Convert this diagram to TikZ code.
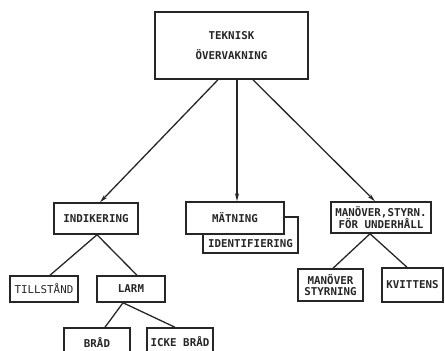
\documentclass[tikz,border=0pt]{standalone}
\usepackage{fontspec}
\setmonofont{DejaVu Sans Mono}
\usetikzlibrary{arrows.meta}
\definecolor{ink}{HTML}{262626}
\begin{document}
\begin{tikzpicture}[x=1pt,y=-1pt,
  box/.style={draw=ink, line width=1.5pt, fill=white, inner sep=0pt,
    align=center, font=\ttfamily\bfseries\fontsize{10.8}{11}\selectfont, text=ink},
  link/.style={draw=ink, line width=1.3pt},
  arrowlink/.style={link, -{Stealth[length=8pt,width=4pt]}}]
\useasboundingbox (0,0) rectangle (445,351);
\begin{scope}
\clip (0,0) rectangle (445,351);
% top level
\node[box, minimum width=153pt, minimum height=67pt] (top) at (231.5,45.5)
  {TEKNISK\\[9pt]ÖVERVAKNING};
% second level
\node[box, minimum width=84pt, minimum height=31pt] (ind) at (96,218.5) {INDIKERING};
\node[box, minimum width=95pt, text height=30pt, text depth=6pt] (ident) at (250.5,235) {IDENTIFIERING};
\node[box, minimum width=98pt, minimum height=32pt] (mat) at (235,218) {MÄTNING};
\node[box, minimum width=100pt, minimum height=31pt] (man) at (381,217.5) {MANÖVER,STYRN.\\FÖR UNDERHÅLL};
% third level
\node[box, minimum width=68pt, minimum height=26pt, font=\ttfamily\fontsize{10.8}{11}\selectfont] (till) at (44,289) {TILLSTÅND};
\node[box, minimum width=68pt, minimum height=26pt] (larm) at (131,289) {LARM};
\node[box, minimum width=65pt, minimum height=32pt] (styr) at (330.5,285) {MANÖVER\\STYRNING};
\node[box, minimum width=61pt, minimum height=34pt] (kvit) at (412.5,285) {KVITTENS};
% fourth level
\node[box, minimum width=66pt, minimum height=28pt] (brad) at (97,342) {BRÅD};
\node[box, minimum width=66pt, minimum height=28pt] (icke) at (180,342) {ICKE BRÅD};
\end{scope}
% arrows from the top box
\draw[arrowlink] ([xshift=-13.5pt]top.south) -- ([xshift=4pt]ind.north);
\draw[arrowlink] ([xshift=5.5pt]top.south) -- ([xshift=2pt]mat.north);
\draw[arrowlink] ([xshift=21.5pt]top.south) -- ([xshift=-6pt]man.north);
% branches below
\draw[link] ([xshift=1pt]ind.south) -- ([xshift=6pt]till.north);
\draw[link] ([xshift=1pt]ind.south) -- ([xshift=6pt]larm.north);
\draw[link] ([xshift=-8pt]larm.south) -- ([xshift=8pt]brad.north);
\draw[link] ([xshift=-8pt]larm.south) -- ([xshift=-5pt]icke.north);
\draw[link] ([xshift=-11pt]man.south) -- ([xshift=2.5pt]styr.north);
\draw[link] ([xshift=-11pt]man.south) -- ([xshift=-5.5pt]kvit.north);
\end{tikzpicture}
\end{document}
